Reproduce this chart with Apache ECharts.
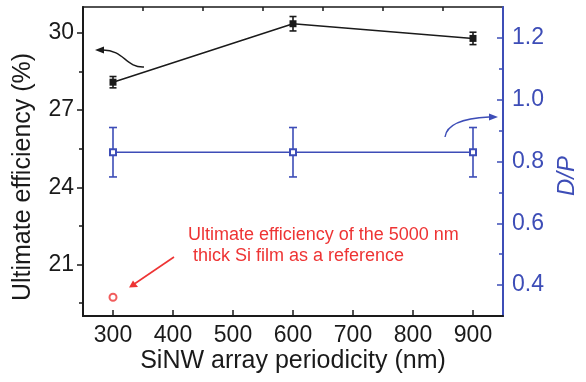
<!DOCTYPE html>
<html>
<head>
<meta charset="utf-8">
<script src="https://cdn.jsdelivr.net/npm/echarts@6/dist/echarts.min.js"></script>
<style>
  html, body { margin: 0; padding: 0; background: #fff; }
  #chart { width: 586px; height: 382px; }
</style>
</head>
<body>
<div id="chart"></div>
<script>
// SiNW array periodicity (nm)
const periods = [300, 600, 900];
// Ultimate efficiency (%) with its error half-width
const efficiency = [28.08, 30.35, 29.78];
const efficiencyErr = [0.22, 0.28, 0.24];
// Diameter / period ratio with its error half-width
const dpRatio = [0.83, 0.83, 0.83];
const dpErr = [0.08, 0.08, 0.08];
// Thin-film reference point
const refPeriod = [300];
const refEfficiency = [19.73];

// Tick positions
const xMajorTicks = [300, 400, 500, 600, 700, 800, 900];
const xMinorTicks = [350, 450, 550, 650, 750, 850];
const effMajorTicks = [21, 24, 27, 30];
const effMinorTicks = [19.5, 22.5, 25.5, 28.5];
const dpMajorTicks = [0.4, 0.6, 0.8, 1.0, 1.2];
const dpMinorTicks = [0.5, 0.7, 0.9, 1.1];

const FONT = '"Liberation Sans", Arial, sans-serif';
const BLACK = '#1a1a1a';
const BLUE = '#3d4db7';
const RED = '#ee3434';
const TICK_FONT = 23;

const chart = echarts.init(document.getElementById('chart'), null, { renderer: 'canvas' });

function pairs(xs, ys) { return xs.map((x, i) => [x, ys[i]]); }
function errRows(xs, ys, es) { return xs.map((x, i) => [x, ys[i] - es[i], ys[i] + es[i]]); }

function errorBar(color, cap) {
  return function (params, api) {
    const lo = api.coord([api.value(0), api.value(1)]);
    const hi = api.coord([api.value(0), api.value(2)]);
    const st = { stroke: color, lineWidth: 1.6 };
    return {
      type: 'group',
      children: [
        { type: 'line', shape: { x1: lo[0], y1: lo[1], x2: hi[0], y2: hi[1] }, style: st },
        { type: 'line', shape: { x1: lo[0] - cap, y1: lo[1], x2: lo[0] + cap, y2: lo[1] }, style: st },
        { type: 'line', shape: { x1: hi[0] - cap, y1: hi[1], x2: hi[0] + cap, y2: hi[1] }, style: st }
      ]
    };
  };
}

const grid = { left: 83, right: 83, top: 7, bottom: 66, show: true, borderColor: BLACK, borderWidth: 1.5 };

function xAxisDef(ticks, len, showLabels) {
  return {
    type: 'value', min: 250, max: 950,
    axisLine: { show: showLabels, lineStyle: { color: BLACK, width: 2 } },
    axisTick: { show: true, inside: true, length: len, customValues: ticks, lineStyle: { color: BLACK, width: 1.5 } },
    axisLabel: showLabels ? { show: true, customValues: ticks, color: BLACK, fontSize: TICK_FONT, fontFamily: FONT, margin: 8 } : { show: false },
    splitLine: { show: false }
  };
}

function yAxisDef(pos, min, max, ticks, len, inside, color, showLabels, fmt) {
  return {
    type: 'value', position: pos, min: min, max: max,
    axisLine: { show: showLabels, onZero: false, lineStyle: { color: color, width: 2 } },
    axisTick: { show: true, inside: inside, length: len, customValues: ticks, lineStyle: { color: color, width: 1.5 } },
    axisLabel: showLabels ? { show: true, customValues: ticks, color: color, fontSize: TICK_FONT, fontFamily: FONT, margin: 9, formatter: fmt } : { show: false },
    splitLine: { show: false }
  };
}

const option = {
  animation: false,
  backgroundColor: '#fff',
  grid: grid,
  xAxis: [
    xAxisDef(xMajorTicks, 6, true),
    xAxisDef(xMinorTicks, 4, false)
  ],
  yAxis: [
    yAxisDef('left', 19, 31, effMajorTicks, 6, false, BLACK, true, v => String(v)),
    yAxisDef('left', 19, 31, effMinorTicks, 4, false, BLACK, false),
    yAxisDef('right', 0.3, 1.3, dpMajorTicks, 6, true, BLUE, true, v => v.toFixed(1)),
    yAxisDef('right', 0.3, 1.3, dpMinorTicks, 4, true, BLUE, false)
  ],
  series: [
    {
      type: 'line', xAxisIndex: 0, yAxisIndex: 2, data: pairs(periods, dpRatio),
      symbol: 'emptyRect', symbolSize: 6, z: 4,
      lineStyle: { color: BLUE, width: 1.6 }, itemStyle: { color: BLUE, borderWidth: 1.3 }
    },
    {
      type: 'custom', xAxisIndex: 0, yAxisIndex: 2, data: errRows(periods, dpRatio, dpErr),
      renderItem: errorBar(BLUE, 4), z: 3
    },
    {
      type: 'line', xAxisIndex: 0, yAxisIndex: 0, data: pairs(periods, efficiency),
      symbol: 'rect', symbolSize: 7, z: 4,
      lineStyle: { color: BLACK, width: 1.5 }, itemStyle: { color: BLACK }
    },
    {
      type: 'custom', xAxisIndex: 0, yAxisIndex: 0, data: errRows(periods, efficiency, efficiencyErr),
      renderItem: errorBar(BLACK, 3.5), z: 3
    },
    {
      type: 'scatter', xAxisIndex: 0, yAxisIndex: 0, data: pairs(refPeriod, refEfficiency),
      symbol: 'emptyCircle', symbolSize: 7, itemStyle: { color: RED, borderWidth: 1.4 }
    }
  ],
  graphic: [
    // axis titles
    {
      type: 'text', x: 23, y: 177, rotation: Math.PI / 2,
      style: { text: 'Ultimate efficiency (%)', fill: BLACK, font: '25px ' + FONT, align: 'center', verticalAlign: 'middle' }
    },
    {
      type: 'text', x: 293, y: 361,
      style: { text: 'SiNW array periodicity (nm)', fill: BLACK, font: '25px ' + FONT, align: 'center', verticalAlign: 'middle' }
    },
    {
      type: 'text', x: 567, y: 176, rotation: Math.PI / 2,
      style: { text: 'D/P', fill: BLUE, font: 'italic 24px ' + FONT, align: 'center', verticalAlign: 'middle' }
    },
    // reference note
    {
      type: 'text', x: 188, y: 235.5,
      style: { text: 'Ultimate efficiency of the 5000 nm', fill: RED, font: '18px ' + FONT, verticalAlign: 'middle' }
    },
    {
      type: 'text', x: 188, y: 256.5,
      style: { text: ' thick Si film as a reference', fill: RED, font: '18px ' + FONT, verticalAlign: 'middle' }
    },
    {
      type: 'line', shape: { x1: 174, y1: 257, x2: 135, y2: 283.5 },
      style: { stroke: RED, lineWidth: 1.6 }
    },
    {
      type: 'polygon', shape: { points: [[129, 287.5], [133, 280.5], [138, 287]] },
      style: { fill: RED }
    },
    // arrow pointing to the left axis
    {
      type: 'bezierCurve',
      shape: { x1: 144, y1: 67, cpx1: 126, cpy1: 68, cpx2: 124, cpy2: 50, x2: 103, y2: 50 },
      style: { stroke: BLACK, lineWidth: 1.4, fill: null }
    },
    {
      type: 'polygon', shape: { points: [[95, 50], [104, 46.5], [104, 53.5]] },
      style: { fill: BLACK }
    },
    // arrow pointing to the right axis
    {
      type: 'bezierCurve',
      shape: { x1: 445, y1: 137, cpx1: 447, cpy1: 122, cpx2: 468, cpy2: 118, x2: 489, y2: 117 },
      style: { stroke: BLUE, lineWidth: 1.4, fill: null }
    },
    {
      type: 'polygon', shape: { points: [[498, 117], [489, 113.5], [489, 120.5]] },
      style: { fill: BLUE }
    }
  ]
};

chart.setOption(option);
</script>
</body>
</html>
